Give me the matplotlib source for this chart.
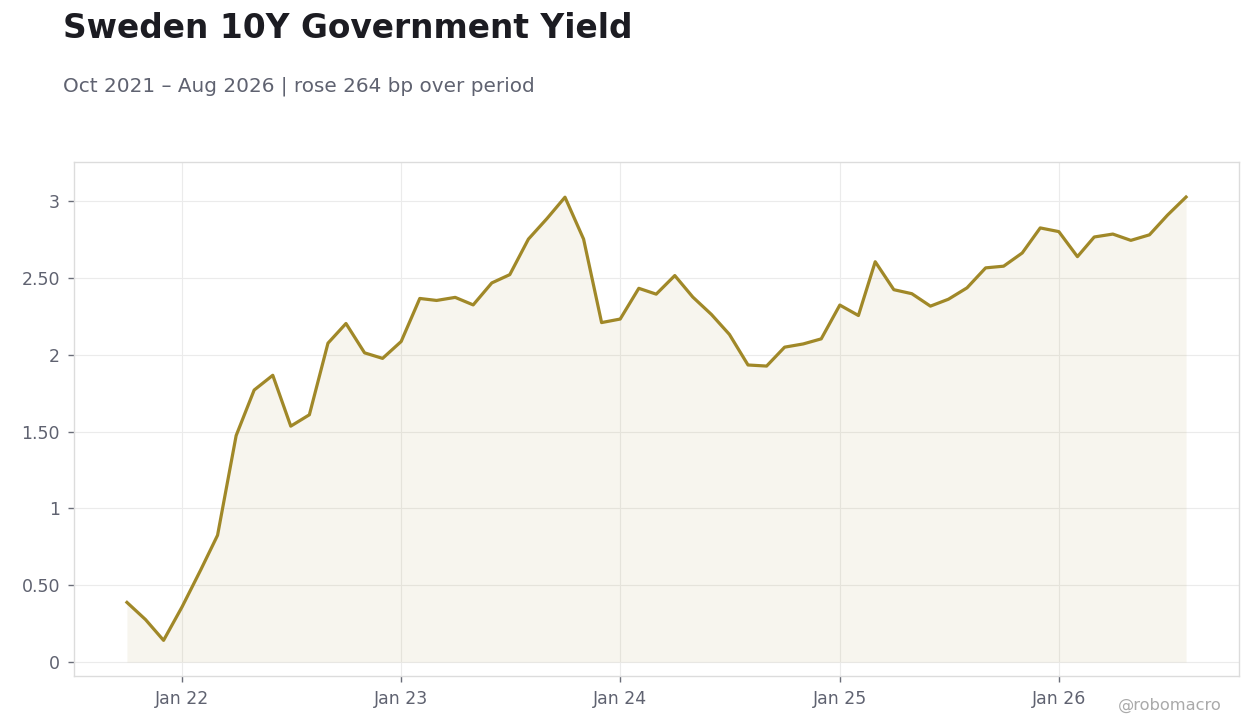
import datetime
import matplotlib
matplotlib.use('Agg')
from matplotlib import pyplot as plt
import matplotlib.dates as mdates
from matplotlib.ticker import FuncFormatter

title = 'Sweden 10Y Government Yield'
subtitle = 'Oct 2021 \u2013 Aug 2026 | rose 264 bp over period'
credit = '@robomacro'

start_year = 2021
start_month = 10
yields = [0.388, 0.276, 0.141, 0.36, 0.6, 0.825, 1.474, 1.770, 1.866, 1.535,
          1.609, 2.075, 2.203, 2.012, 1.976, 2.086, 2.366, 2.353, 2.373, 2.324,
          2.467, 2.521, 2.752, 2.886, 3.025, 2.752, 2.209, 2.232, 2.432, 2.394,
          2.515, 2.375, 2.262, 2.132, 1.933, 1.926, 2.049, 2.070, 2.103, 2.323,
          2.255, 2.605, 2.423, 2.397, 2.316, 2.361, 2.435, 2.565, 2.576, 2.662,
          2.825, 2.801, 2.638, 2.766, 2.785, 2.744, 2.780, 2.908, 3.026]
y_ticks = [0, 0.5, 1, 1.5, 2, 2.5, 3]

line_color = '#a08828'
text_color = '#5f6270'
grid_color = '#ebebeb'


def month_dates(year, month, n):
    out = []
    for i in range(n):
        m = month - 1 + i
        out.append(datetime.date(year + m // 12, m % 12 + 1, 1))
    return out


def fmt_y(v, pos):
    if abs(v - round(v)) < 1e-9:
        return '%d' % round(v)
    return '%.2f' % v


dates = month_dates(start_year, start_month, len(yields))

fig = plt.figure(figsize=(12.6, 7.28), dpi=100)
ax = fig.add_axes([74 / 1260, 1 - 676 / 728, (1239 - 74) / 1260, (676 - 162) / 728])

ax.fill_between(dates, 0, yields, color=line_color, alpha=0.08, linewidth=0)
ax.plot(dates, yields, color=line_color, linewidth=2.3)

ax.set_ylim(-0.091, 3.254)
ax.set_yticks(y_ticks)
ax.yaxis.set_major_formatter(FuncFormatter(fmt_y))
ax.xaxis.set_major_locator(mdates.YearLocator(month=1))
ax.xaxis.set_major_formatter(mdates.DateFormatter('Jan %y'))

ax.grid(True, color=grid_color, linewidth=0.8)
ax.set_axisbelow(True)
for s in ax.spines.values():
    s.set_color('#dcdcdc')
    s.set_linewidth(1)
ax.tick_params(axis='both', colors=text_color, labelsize=12.5, length=4,
               width=1, pad=6)
ax.tick_params(axis='both', color='#6a6d78')

fig.text(63 / 1260, 1 - 29 / 728, title, fontsize=23.7, fontweight='bold',
         color='#1c1c22', va='center', ha='left')
fig.text(63 / 1260, 1 - 86 / 728, subtitle, fontsize=14.4, color=text_color,
         va='center', ha='left')
fig.text(1222 / 1260, 1 - 705 / 728, credit, fontsize=11.7, color='#aaaaaa',
         va='center', ha='right')

plt.savefig('out.png', dpi=100)
